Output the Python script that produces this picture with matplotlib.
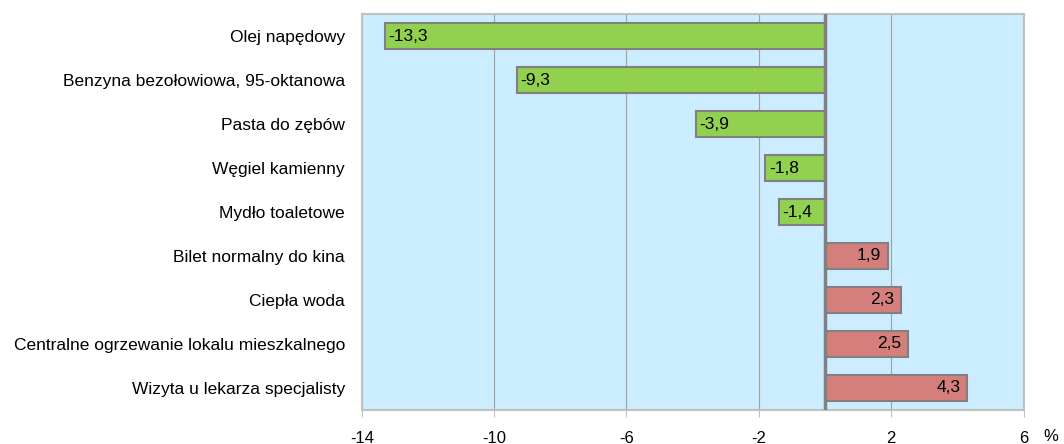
import matplotlib.pyplot as plt
import numpy as np

plt.rcParams['font.family'] = ['Liberation Sans', 'DejaVu Sans']

# dane
kategorie = ['Olej napędowy', 'Benzyna bezołowiowa, 95-oktanowa', 'Pasta do zębów',
             'Węgiel kamienny', 'Mydło toaletowe', 'Bilet normalny do kina',
             'Ciepła woda', 'Centralne ogrzewanie lokalu mieszkalnego',
             'Wizyta u lekarza specjalisty']
wartosci = [-13.3, -9.3, -3.9, -1.8, -1.4, 1.9, 2.3, 2.5, 4.3]
ticki = [-14, -10, -6, -2, 2, 6]

fig = plt.figure(figsize=(10.64, 4.44), dpi=100)
ax = fig.add_axes([0.340, 0.077, 0.622, 0.891])
ax.set_facecolor('#CCECFF')

y = np.arange(len(kategorie))
kolory = ['#92D050' if v < 0 else '#D47F7B' for v in wartosci]
ax.barh(y, wartosci, height=0.6, color=kolory, edgecolor='#808080', linewidth=1.5, zorder=3)

for yi, v in zip(y, wartosci):
    txt = ('%.1f' % v).replace('.', ',')
    if v < 0:
        ax.text(v + 0.1, yi, txt, ha='left', va='center', fontsize=12.5, zorder=4)
    else:
        ax.text(v - 0.2, yi, txt, ha='right', va='center', fontsize=12.5, zorder=4)

ax.set_xlim(-14, 6)
ax.set_ylim(len(kategorie) - 0.5, -0.5)
ax.set_xticks(ticks=ticki)
ax.set_xticklabels([str(t) for t in ticki], fontsize=12)
ax.set_yticks(y)
ax.set_yticklabels(kategorie, fontsize=12.5)
ax.tick_params(axis='y', length=0, pad=12)
ax.tick_params(axis='x', length=5, color='#C0C0C0', pad=10)
ax.grid(axis='x', color='#A0A0A0', linewidth=0.8, zorder=1)
ax.axvline(0, color='#808080', linewidth=2.5, zorder=5)

for s in ax.spines.values():
    s.set_color('#C0C0C0')
    s.set_linewidth(1.5)

fig.text(0.988, 0.016, '%', fontsize=12, ha='center', va='center')

plt.savefig('out.png', dpi=100)
